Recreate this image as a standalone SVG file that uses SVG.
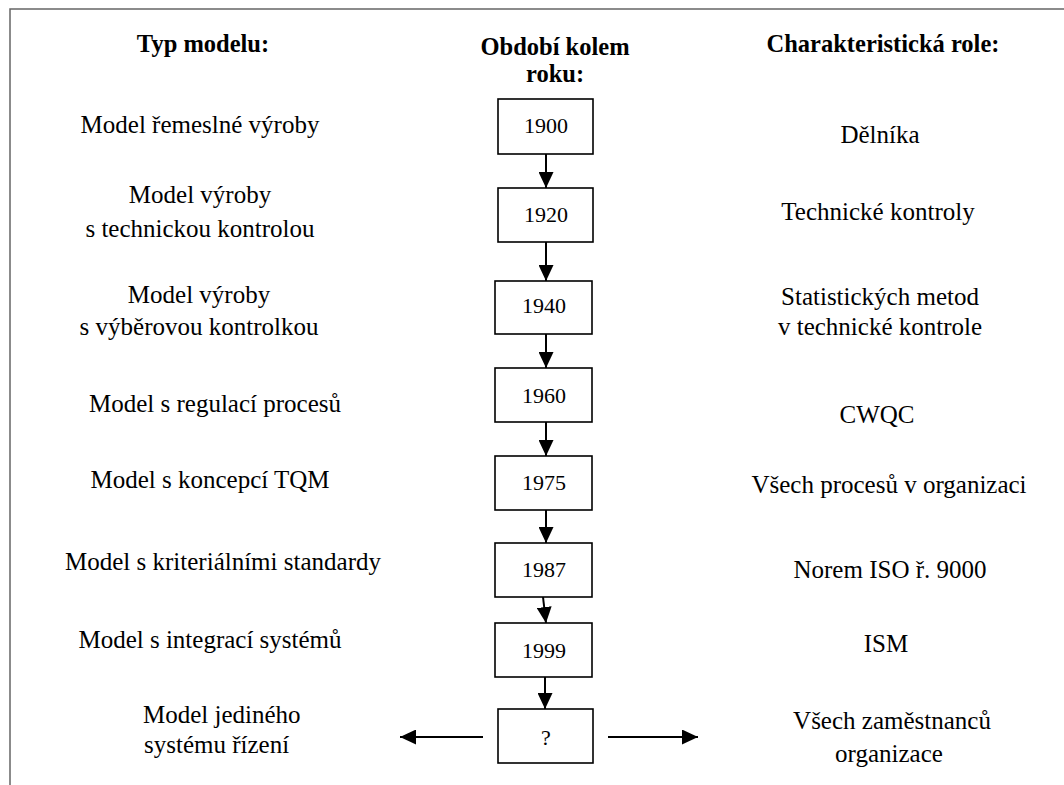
<svg xmlns="http://www.w3.org/2000/svg" width="1064" height="785" viewBox="0 0 1064 785">
  <style>
    text { font-family: 'Liberation Serif', 'DejaVu Serif', serif; fill: #000; }
    .hdr { font-size: 24.5px; font-weight: bold; text-anchor: middle; }
    .lbl { font-size: 25px; text-anchor: middle; }
    .lft { font-size: 25px; text-anchor: start; }
    .yr { font-size: 22px; text-anchor: middle; }
    .box { fill: #fff; stroke: #000; stroke-width: 1.6; }
    .frame { stroke: #666; stroke-width: 1.5; fill: none; }
  </style>
  <defs>
    <marker id="arrowHead" markerWidth="16" markerHeight="15" refX="16" refY="7.5" orient="auto" markerUnits="userSpaceOnUse" viewBox="0 0 16 15">
      <path d="M0,0 L16,7.5 L0,15 Z" fill="#000"/>
    </marker>
  </defs>

  <rect width="1064" height="785" fill="#fff"/>
  <!-- outer frame: top and left edges -->
  <path class="frame" d="M10,785 V9 H1064"/>

  <!-- column headers -->
  <g id="headers">
    <text class="hdr" x="203" y="52">Typ modelu:</text>
    <text class="hdr" x="555" y="55">Období kolem</text>
    <text class="hdr" x="555" y="82">roku:</text>
    <text class="hdr" x="883" y="52">Charakteristická role:</text>
  </g>

  <!-- model types -->
  <g id="models">
    <text class="lbl" x="200" y="133">Model řemeslné výroby</text>
    <text class="lbl" x="200" y="203">Model výroby</text>
    <text class="lbl" x="200" y="237">s technickou kontrolou</text>
    <text class="lbl" x="199" y="303">Model výroby</text>
    <text class="lbl" x="199" y="335">s výběrovou kontrolkou</text>
    <text class="lbl" x="215" y="412">Model s regulací procesů</text>
    <text class="lbl" x="210" y="488">Model s koncepcí TQM</text>
    <text class="lbl" x="223" y="570">Model s kriteriálními standardy</text>
    <text class="lbl" x="210" y="648">Model s integrací systémů</text>
    <text class="lft" x="143" y="723">Model jediného</text>
    <text class="lft" x="144" y="753">systému řízení</text>
  </g>

  <!-- year nodes -->
  <g id="y1900"><rect class="box" x="498" y="99" width="95" height="55"/><text class="yr" x="546" y="133">1900</text></g>
  <g id="y1920"><rect class="box" x="498" y="188" width="95" height="54"/><text class="yr" x="546" y="222">1920</text></g>
  <g id="y1940"><rect class="box" x="495" y="281" width="97" height="53"/><text class="yr" x="544" y="313">1940</text></g>
  <g id="y1960"><rect class="box" x="495" y="368" width="97" height="54"/><text class="yr" x="544" y="403">1960</text></g>
  <g id="y1975"><rect class="box" x="495" y="456" width="97" height="54"/><text class="yr" x="544" y="490">1975</text></g>
  <g id="y1987"><rect class="box" x="495" y="543" width="97" height="54"/><text class="yr" x="544" y="577">1987</text></g>
  <g id="y1999"><rect class="box" x="495" y="623" width="97" height="54"/><text class="yr" x="544" y="658">1999</text></g>
  <g id="yFuture"><rect class="box" x="498" y="709" width="95" height="54"/><text class="yr" x="546" y="745">?</text></g>

  <!-- characteristic roles -->
  <g id="roles">
    <text class="lbl" x="880" y="143">Dělníka</text>
    <text class="lbl" x="878" y="220">Technické kontroly</text>
    <text class="lbl" x="880" y="305">Statistických metod</text>
    <text class="lbl" x="880" y="335">v technické kontrole</text>
    <text class="lbl" x="877" y="423">CWQC</text>
    <text class="lbl" x="889" y="493">Všech procesů v organizaci</text>
    <text class="lbl" x="890" y="578">Norem ISO ř. 9000</text>
    <text class="lbl" x="886" y="652">ISM</text>
    <text class="lbl" x="892" y="729">Všech zaměstnanců</text>
    <text class="lbl" x="889" y="762">organizace</text>
  </g>

  <!-- connectors -->
  <g id="connectors" stroke="#000" stroke-width="2">
    <line x1="546" y1="154" x2="546" y2="188" marker-end="url(#arrowHead)"/>
    <line x1="546" y1="242" x2="546" y2="281" marker-end="url(#arrowHead)"/>
    <line x1="546" y1="334" x2="546" y2="368" marker-end="url(#arrowHead)"/>
    <line x1="546" y1="422" x2="546" y2="456" marker-end="url(#arrowHead)"/>
    <line x1="546" y1="510" x2="546" y2="543" marker-end="url(#arrowHead)"/>
    <line x1="543" y1="597" x2="546" y2="623" marker-end="url(#arrowHead)"/>
    <line x1="545" y1="677" x2="545" y2="709" marker-end="url(#arrowHead)"/>
    <line x1="483" y1="737" x2="400" y2="737" marker-end="url(#arrowHead)"/>
    <line x1="608" y1="737" x2="698" y2="737" marker-end="url(#arrowHead)"/>
  </g>
</svg>
